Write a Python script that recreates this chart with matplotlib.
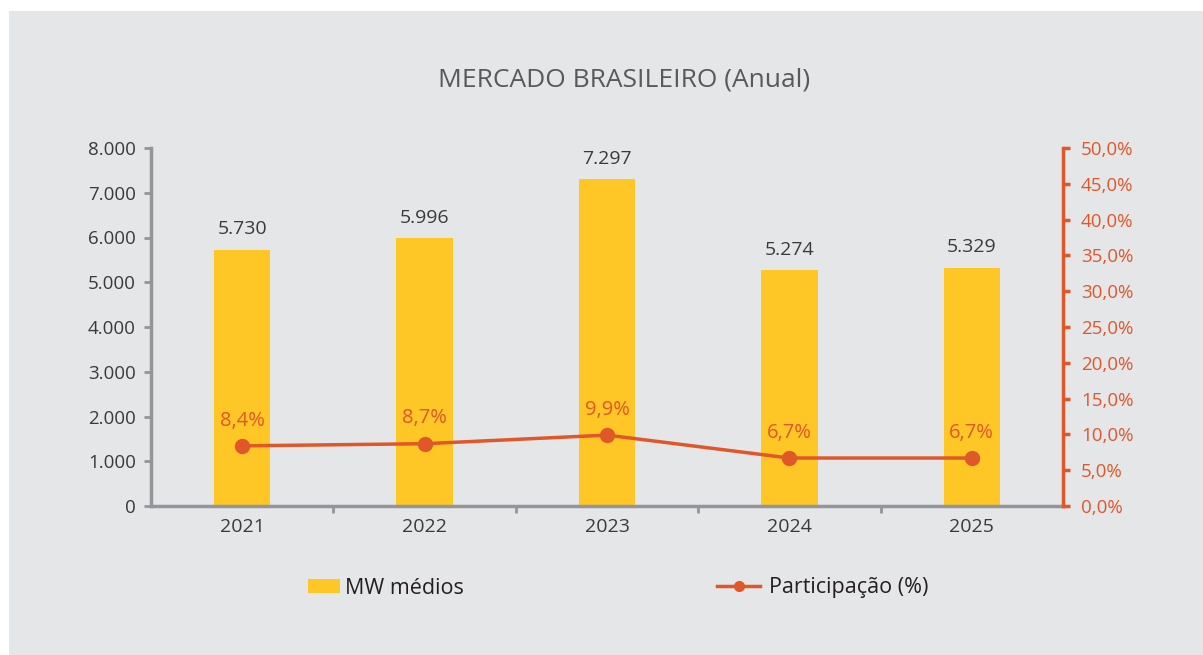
import numpy as np
import matplotlib.pyplot as plt
from matplotlib.patches import Rectangle
from matplotlib.lines import Line2D
from matplotlib.patches import Patch

plt.rcParams['font.family'] = ['Open Sans', 'DejaVu Sans']

anos = ['2021', '2022', '2023', '2024', '2025']
mw_medios = [5730, 5996, 7297, 5274, 5329]
participacao = [8.4, 8.7, 9.9, 6.7, 6.7]

amarelo = '#FFC726'
laranja = '#E0572A'
cinza_eixo = '#939598'
texto = '#3A3A3A'

def br(v, dec=0):
    s = f'{v:,.{dec}f}'
    return s.replace(',', 'X').replace('.', ',').replace('X', '.')

fig = plt.figure(figsize=(12.03, 6.55), dpi=100)
fig.patch.set_facecolor('white')
fig.patches.append(Rectangle((9 / 1203, 0), 1 - 9 / 1203, 1 - 11 / 655,
                             transform=fig.transFigure, facecolor='#E5E6E8',
                             edgecolor='none', zorder=-10))

ax = fig.add_axes([151 / 1203, 1 - 506 / 655, 912 / 1203, 358 / 655])
ax.set_facecolor('none')
x = np.arange(len(anos))
ax.bar(x, mw_medios, width=0.31, color=amarelo, zorder=2)
for xi, v in zip(x, mw_medios):
    ax.annotate(br(v), (xi, v), xytext=(0, 8), textcoords='offset points',
                ha='center', va='bottom', fontsize=14, color=texto)

ax.set_xlim(-0.5, len(anos) - 0.5)
ax.set_ylim(0, 8000)
ax.set_yticks(range(0, 8001, 1000))
ax.set_yticklabels([br(v) for v in range(0, 8001, 1000)])
ax.set_xticks(x)
ax.set_xticklabels(anos)
ax.set_xticks(np.arange(0.5, len(anos) - 1, 1), minor=True)
ax.tick_params(axis='x', which='major', length=0, pad=9, labelsize=14, labelcolor=texto)
ax.tick_params(axis='x', which='minor', length=5, width=2, color=cinza_eixo, direction='out')
ax.tick_params(axis='y', length=5, width=2, color=cinza_eixo, labelsize=13.5,
               labelcolor=texto, pad=6)
for s in ['top', 'right']:
    ax.spines[s].set_visible(False)
for s in ['left', 'bottom']:
    ax.spines[s].set_color(cinza_eixo)
    ax.spines[s].set_linewidth(2.5)

ax2 = ax.twinx()
ax2.set_ylim(0, 50)
ax2.set_yticks(np.arange(0, 50.1, 5))
ax2.set_yticklabels([br(v, 1) + '%' for v in np.arange(0, 50.1, 5)])
ax2.plot(x, participacao, color=laranja, lw=2.5, marker='o', ms=10, zorder=3)
for xi, v in zip(x, participacao):
    ax2.annotate(br(v, 1) + '%', (xi, v), xytext=(0, 11), textcoords='offset points',
                 ha='center', va='bottom', fontsize=14.5, color=laranja)
ax2.tick_params(axis='y', length=5, width=2.5, color=laranja, labelsize=13.5,
                labelcolor=laranja, pad=8)
for s in ['top', 'left', 'bottom']:
    ax2.spines[s].set_visible(False)
ax2.spines['right'].set_color(laranja)
ax2.spines['right'].set_linewidth(2.5)

fig.text(624 / 1203, 1 - 80 / 655, 'MERCADO BRASILEIRO (Anual)', ha='center', va='center',
         fontsize=19, color='#595959')

h1 = Patch(facecolor=amarelo, edgecolor='none')
fig.legend([h1], ['MW médios'], loc='center left', bbox_to_anchor=(289 / 1203, 1 - 588 / 655),
           frameon=False, fontsize=15.5, handlelength=1.45, handleheight=0.6, handletextpad=0.25,
           labelcolor='#231F20')
h2 = Line2D([], [], color=laranja, lw=2.5, marker='o', ms=7)
fig.legend([h2], ['Participação (%)'], loc='center left', bbox_to_anchor=(698 / 1203, 1 - 588 / 655),
           frameon=False, fontsize=15.5, handlelength=2.0, handletextpad=0.4,
           labelcolor='#231F20')

fig.savefig('out.png', dpi=100, facecolor=fig.get_facecolor())
